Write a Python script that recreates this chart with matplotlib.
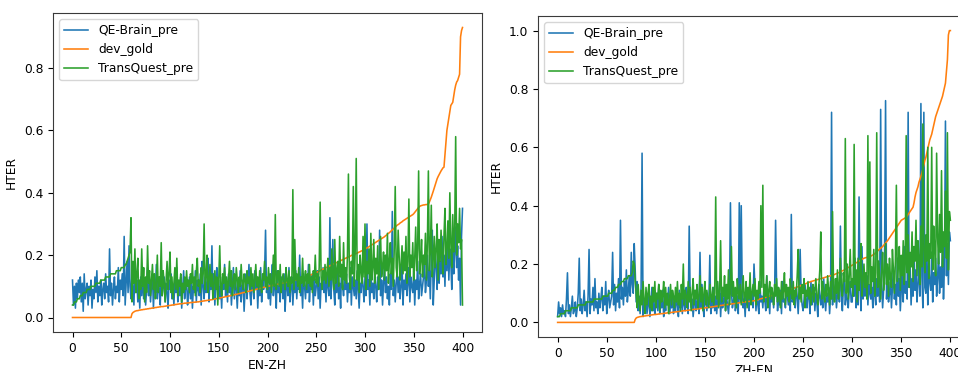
import numpy as np
import matplotlib.pyplot as plt

# HTER values (predictions in hundredths, gold in thousandths)
# EN-ZH
qe_enzh = [
    12, 4, 10, 3, 11, 6, 12, 8, 13, 5, 11, 2, 14, 6, 9, 11, 4, 10, 7, 12,
    3, 9, 6, 13, 8, 15, 5, 10, 7, 12, 4, 9, 11, 6, 14, 8, 10, 5, 22, 7,
    11, 4, 9, 13, 6, 10, 8, 16, 5, 12, 9, 14, 7, 26, 4, 11, 18, 8, 23, 10,
    6, 14, 9, 4, 17, 8, 12, 5, 10, 3, 13, 7, 15, 6, 11, 4, 9, 16, 7, 12,
    5, 10, 14, 3, 11, 8, 17, 6, 12, 9, 4, 15, 7, 10, 13, 5, 11, 8, 3, 12,
    9, 14, 6, 10, 4, 12, 8, 16, 5, 11, 7, 13, 3, 9, 15, 6, 10, 12, 4, 8,
    13, 6, 11, 3, 10, 8, 15, 5, 12, 9, 7, 14, 4, 18, 10, 6, 13, 8, 11, 19,
    5, 12, 9, 23, 7, 14, 4, 11, 16, 8, 12, 6, 10, 3, 13, 9, 17, 7, 11, 5,
    14, 8, 12, 4, 10, 16, 6, 13, 9, 3, 11, 7, 15, 5, 10, 12, 2, 9, 14, 6,
    11, 17, 8, 4, 12, 10, 6, 15, 9, 13, 3, 11, 7, 16, 5, 12, 9, 14, 28, 8,
    10, 6, 13, 4, 11, 17, 7, 12, 9, 3, 15, 8, 10, 5, 13, 11, 6, 14, 2, 9,
    12, 7, 16, 5, 10, 13, 4, 11, 8, 15, 6, 12, 9, 20, 7, 11, 3, 14, 10, 6,
    13, 8, 17, 5, 11, 9, 14, 4, 12, 7, 10, 15, 6, 13, 3, 11, 9, 16, 8, 12,
    5, 14, 10, 7, 32, 6, 12, 25, 9, 4, 13, 8, 15, 6, 11, 3, 17, 10, 7, 12,
    9, 14, 5, 11, 8, 16, 4, 13, 10, 7, 12, 6, 15, 9, 3, 11, 8, 14, 10, 5,
    13, 7, 30, 9, 12, 4, 15, 8, 11, 6, 14, 10, 5, 13, 9, 28, 7, 12, 4, 11,
    16, 8, 13, 6, 10, 4, 14, 9, 34, 7, 12, 5, 11, 15, 8, 13, 6, 10, 17, 4,
    12, 9, 14, 7, 11, 16, 5, 13, 10, 8, 15, 4, 12, 9, 18, 6, 11, 14, 7, 10,
    13, 17, 8, 12, 20, 10, 15, 6, 19, 28, 4, 12, 22, 16, 9, 25, 11, 18, 14, 26,
    13, 20, 10, 24, 15, 27, 12, 22, 18, 9, 25, 14, 21, 29, 16, 23, 12, 19, 4, 26,
    35,
]
gold_enzh = [
    0, 0, 0, 0, 0, 0, 0, 0, 0, 0, 0, 0, 0, 0, 0, 0, 0, 0, 0, 0,
    0, 0, 0, 0, 0, 0, 0, 0, 0, 0, 0, 0, 0, 0, 0, 0, 0, 0, 0, 0,
    0, 0, 0, 0, 0, 0, 0, 0, 0, 0, 0, 0, 0, 0, 0, 0, 0, 0, 0, 0,
    0, 12, 16, 18, 20, 21, 22, 22, 23, 24, 24, 25, 25, 26, 26, 27, 27, 28, 28, 29,
    29, 30, 30, 31, 31, 32, 32, 33, 33, 34, 34, 35, 35, 35, 36, 36, 37, 37, 38, 38,
    39, 39, 40, 40, 41, 41, 42, 42, 43, 43, 44, 44, 44, 45, 45, 46, 46, 46, 47, 47,
    47, 48, 48, 48, 49, 49, 49, 50, 50, 50, 51, 51, 52, 52, 53, 53, 54, 54, 55, 55,
    56, 56, 57, 57, 58, 59, 59, 60, 61, 61, 62, 63, 63, 64, 65, 65, 66, 67, 67, 68,
    69, 69, 70, 71, 71, 72, 73, 74, 74, 75, 76, 77, 77, 78, 79, 80, 80, 81, 82, 83,
    84, 84, 85, 86, 87, 88, 88, 89, 90, 91, 92, 92, 93, 94, 95, 96, 97, 97, 98, 99,
    100, 101, 101, 102, 103, 103, 104, 105, 105, 106, 107, 107, 108, 109, 109, 110, 111, 111, 112, 113,
    113, 114, 115, 116, 116, 117, 118, 119, 120, 120, 121, 122, 123, 124, 125, 126, 127, 128, 129, 130,
    131, 132, 133, 135, 136, 137, 139, 140, 141, 143, 144, 146, 147, 149, 150, 152, 154, 155, 157, 158,
    160, 161, 163, 164, 166, 167, 169, 170, 172, 173, 175, 176, 178, 179, 181, 182, 184, 185, 187, 188,
    190, 191, 193, 194, 196, 197, 199, 200, 201, 203, 204, 205, 207, 208, 210, 211, 213, 214, 216, 218,
    219, 221, 223, 225, 227, 229, 231, 233, 235, 237, 239, 241, 243, 245, 247, 249, 251, 253, 255, 257,
    259, 262, 264, 267, 270, 272, 275, 278, 281, 284, 287, 290, 293, 296, 298, 300, 303, 305, 307, 310,
    312, 314, 316, 318, 320, 322, 324, 326, 328, 330, 333, 337, 341, 345, 349, 353, 356, 358, 359, 360,
    361, 361, 362, 362, 363, 364, 370, 378, 386, 395, 405, 415, 425, 435, 445, 452, 458, 464, 470, 475,
    480, 482, 520, 560, 600, 620, 640, 660, 680, 685, 690, 710, 730, 745, 755, 760, 770, 780, 900, 920,
    930,
]
tq_enzh = [
    4, 4, 5, 5, 5, 6, 6, 6, 7, 7, 7, 8, 8, 8, 8, 9, 9, 9, 9, 10,
    10, 10, 10, 10, 11, 11, 11, 11, 11, 12, 12, 12, 12, 12, 13, 13, 13, 13, 13, 14,
    14, 14, 14, 14, 14, 15, 15, 15, 15, 15, 16, 16, 16, 16, 17, 17, 18, 19, 20, 21,
    32, 5, 18, 11, 22, 8, 14, 19, 6, 12, 9, 22, 10, 16, 5, 13, 8, 23, 11, 15,
    7, 12, 17, 9, 14, 6, 11, 20, 8, 13, 10, 24, 7, 15, 11, 5, 12, 18, 9, 14,
    21, 8, 13, 6, 11, 16, 9, 19, 7, 12, 10, 14, 5, 11, 8, 13, 9, 15, 10, 12,
    8, 14, 11, 17, 9, 13, 7, 15, 19, 10, 12, 8, 16, 11, 14, 30, 9, 13, 20, 8,
    12, 17, 10, 14, 6, 11, 15, 9, 13, 4, 12, 23, 10, 7, 14, 11, 16, 9, 13, 8,
    12, 18, 10, 15, 7, 11, 14, 9, 16, 12, 8, 13, 10, 17, 11, 9, 14, 12, 8, 15,
    11, 13, 9, 16, 10, 14, 8, 12, 17, 10, 13, 9, 15, 11, 8, 14, 12, 18, 10, 13,
    9, 16, 11, 14, 8, 12, 20, 10, 33, 9, 13, 15, 10, 17, 8, 12, 14, 11, 9, 16,
    12, 10, 15, 8, 13, 11, 41, 9, 25, 12, 14, 10, 16, 8, 13, 11, 19, 10, 12, 15,
    9, 14, 11, 17, 10, 13, 8, 15, 12, 20, 11, 14, 10, 16, 37, 13, 9, 15, 12, 17,
    11, 14, 19, 10, 16, 12, 22, 13, 9, 25, 11, 15, 18, 10, 26, 13, 17, 9, 24, 12,
    16, 11, 20, 46, 13, 9, 18, 14, 42, 10, 22, 51, 12, 17, 8, 20, 15, 11, 26, 13,
    30, 9, 18, 14, 22, 10, 27, 12, 16, 25, 11, 19, 14, 23, 9, 18, 26, 13, 16, 21,
    12, 20, 15, 27, 11, 18, 24, 14, 19, 10, 22, 42, 16, 13, 28, 20, 12, 17, 23, 14,
    21, 15, 26, 11, 18, 38, 13, 20, 16, 24, 12, 19, 29, 15, 22, 47, 14, 18, 25, 13,
    20, 17, 27, 12, 24, 47, 15, 21, 36, 13, 19, 26, 16, 22, 30, 12, 25, 18, 28, 20,
    14, 26, 35, 17, 22, 31, 19, 40, 24, 16, 33, 21, 28, 58, 20, 30, 24, 35, 22, 25,
    4,
]

# ZH-EN
qe_zhen = [
    2, 7, 3, 5, 2, 6, 3, 4, 2, 8, 17, 3, 6, 2, 5, 9, 3, 4, 7, 2,
    5, 10, 22, 4, 8, 3, 6, 11, 4, 7, 2, 9, 25, 3, 8, 6, 12, 4, 15, 5,
    7, 3, 10, 5, 8, 12, 4, 9, 6, 14, 3, 8, 11, 5, 7, 9, 24, 6, 13, 4,
    10, 7, 15, 5, 35, 8, 12, 6, 14, 9, 18, 7, 11, 16, 9, 24, 13, 10, 27, 18,
    7, 14, 4, 9, 3, 12, 58, 2, 8, 4, 10, 3, 6, 9, 2, 7, 12, 4, 8, 3,
    6, 10, 4, 13, 3, 8, 5, 11, 2, 7, 4, 9, 6, 12, 3, 8, 5, 10, 3, 7,
    4, 9, 6, 2, 11, 5, 8, 3, 10, 6, 4, 12, 7, 3, 33, 9, 5, 8, 2, 6,
    11, 4, 7, 9, 3, 24, 5, 13, 6, 2, 10, 8, 4, 8, 6, 23, 3, 7, 5, 12,
    4, 9, 3, 8, 6, 14, 2, 10, 5, 7, 12, 4, 9, 6, 3, 8, 41, 11, 5, 7,
    10, 4, 6, 9, 3, 41, 7, 40, 12, 5, 8, 2, 11, 6, 9, 4, 13, 7, 10, 5,
    20, 12, 4, 10, 6, 3, 14, 7, 9, 5, 11, 8, 4, 16, 6, 9, 3, 12, 7, 10,
    5, 10, 35, 13, 4, 9, 6, 11, 3, 14, 7, 8, 5, 12, 9, 6, 10, 4, 37, 7,
    9, 8, 5, 12, 9, 3, 11, 25, 10, 6, 4, 8, 13, 7, 5, 11, 9, 3, 14, 6,
    8, 12, 4, 10, 7, 2, 13, 9, 6, 11, 5, 15, 8, 4, 10, 7, 12, 3, 9, 72,
    6, 14, 8, 11, 5, 10, 13, 7, 33, 9, 4, 12, 16, 6, 10, 8, 5, 11, 14, 7,
    7, 14, 9, 22, 5, 10, 6, 43, 12, 4, 26, 8, 15, 9, 11, 16, 6, 13, 10, 8,
    12, 5, 18, 10, 6, 15, 9, 20, 7, 73, 13, 5, 11, 24, 76, 8, 16, 7, 10, 14,
    5, 12, 19, 8, 13, 6, 22, 9, 15, 4, 11, 17, 7, 26, 10, 14, 8, 72, 12, 20,
    6, 15, 9, 25, 11, 18, 7, 13, 23, 9, 75, 16, 5, 72, 12, 10, 28, 6, 19, 14,
    11, 24, 7, 17, 13, 22, 9, 15, 25, 10, 19, 12, 30, 8, 20, 69, 16, 27, 13, 31,
    28,
]
gold_zhen = [
    0, 0, 0, 0, 0, 0, 0, 0, 0, 0, 0, 0, 0, 0, 0, 0, 0, 0, 0, 0,
    0, 0, 0, 0, 0, 0, 0, 0, 0, 0, 0, 0, 0, 0, 0, 0, 0, 0, 0, 0,
    0, 0, 0, 0, 0, 0, 0, 0, 0, 0, 0, 0, 0, 0, 0, 0, 0, 0, 0, 0,
    0, 0, 0, 0, 0, 0, 0, 0, 0, 0, 0, 0, 0, 0, 0, 0, 0, 0, 0,
    10, 15, 17, 18, 19, 20, 20, 21, 21, 22, 22, 23, 23, 24, 24, 25, 25, 26, 26, 27, 27,
    27, 28, 28, 29, 29, 30, 30, 30, 31, 31, 32, 32, 33, 33, 33, 34, 34, 35, 35, 36,
    36, 36, 37, 37, 38, 38, 39, 39, 40, 40, 40, 41, 41, 42, 42, 43, 43, 44, 44, 45,
    45, 45, 46, 46, 47, 47, 48, 48, 49, 49, 50, 50, 51, 51, 52, 52, 53, 53, 54, 54,
    55, 55, 56, 56, 57, 57, 58, 58, 59, 59, 60, 60, 61, 61, 62, 62, 63, 63, 64, 64,
    65, 65, 66, 66, 67, 67, 68, 68, 69, 69, 70, 70, 71, 71, 72, 72, 72, 73, 73, 74,
    74, 75, 76, 77, 78, 79, 80, 81, 82, 83, 84, 85, 86, 87, 88, 89, 90, 91, 92, 93,
    94, 95, 96, 97, 98, 99, 100, 101, 102, 103, 105, 106, 107, 108, 109, 110, 112, 113, 114, 115,
    116, 118, 119, 120, 121, 123, 124, 125, 127, 128, 129, 131, 132, 133, 135, 136, 137, 139, 140, 141,
    142, 143, 144, 145, 146, 147, 148, 149, 150, 151, 152, 153, 154, 155, 156, 157, 158, 159, 160, 161,
    162, 163, 164, 166, 167, 169, 170, 172, 173, 175, 177, 178, 180, 182, 184, 186, 188, 190, 192, 194,
    196, 198, 200, 202, 204, 206, 208, 210, 212, 214, 216, 218, 220, 221, 222, 223, 224, 225, 226, 227,
    229, 231, 233, 236, 239, 242, 245, 248, 251, 254, 257, 260, 264, 268, 272, 276, 280, 285, 290, 295,
    300, 305, 310, 315, 320, 325, 330, 335, 340, 345, 350, 352, 354, 356, 358, 360, 365, 370, 375, 380,
    385, 390, 395, 410, 430, 445, 455, 465, 480, 490, 500, 512, 525, 540, 555, 565, 580, 595, 610, 625,
    635, 645, 660, 675, 690, 705, 715, 725, 735, 745, 755, 765, 775, 790, 805, 820, 860, 900, 985, 1000,
    1000,
]
tq_zhen = [
    2, 2, 2, 3, 3, 3, 3, 3, 4, 4, 4, 4, 4, 4, 5, 5, 5, 5, 5, 5,
    5, 6, 6, 6, 6, 6, 6, 6, 6, 7, 7, 7, 7, 7, 7, 7, 7, 8, 8, 8,
    8, 8, 8, 8, 8, 8, 9, 9, 9, 9, 9, 9, 10, 10, 10, 10, 11, 11, 11, 12,
    12, 12, 13, 13, 13, 14, 14, 14, 15, 15, 15, 15, 16, 16, 16, 16, 17, 21, 20, 14,
    10, 5, 13, 7, 4, 11, 6, 14, 8, 3, 12, 6, 10, 13, 5, 9, 4, 12, 7, 14,
    5, 10, 8, 13, 4, 11, 7, 9, 14, 5, 12, 6, 10, 3, 8, 13, 6, 11, 9, 5,
    12, 7, 14, 6, 10, 4, 13, 8, 20, 6, 11, 9, 5, 14, 7, 12, 4, 10, 15, 6,
    11, 8, 13, 5, 9, 16, 7, 12, 4, 10, 14, 6, 11, 8, 5, 13, 9, 7, 12, 6,
    10, 43, 8, 14, 5, 11, 28, 7, 12, 9, 16, 4, 13, 8, 18, 6, 11, 26, 9, 14,
    7, 12, 5, 15, 10, 8, 13, 6, 11, 16, 7, 9, 14, 5, 12, 8, 17, 6, 10, 13,
    9, 15, 6, 11, 8, 14, 10, 40, 12, 47, 7, 13, 9, 16, 5, 11, 14, 8, 12, 10,
    6, 13, 9, 15, 7, 12, 10, 5, 14, 8, 11, 17, 6, 13, 9, 12, 7, 15, 10, 8,
    14, 6, 11, 9, 16, 25, 8, 12, 7, 13, 10, 15, 5, 11, 9, 14, 8, 12, 6, 10,
    13, 7, 11, 15, 9, 6, 12, 18, 31, 8, 14, 10, 7, 13, 9, 16, 11, 6, 14, 8,
    38, 12, 7, 15, 10, 18, 8, 13, 22, 11, 9, 17, 14, 63, 10, 20, 8, 16, 25, 12,
    15, 9, 61, 13, 18, 7, 22, 11, 16, 27, 9, 14, 20, 12, 17, 8, 64, 13, 55, 10,
    19, 14, 25, 9, 17, 65, 12, 21, 15, 8, 18, 24, 11, 16, 27, 13, 20, 9, 22, 15,
    12, 25, 18, 10, 21, 47, 14, 19, 26, 11, 23, 16, 28, 13, 20, 64, 17, 30, 12, 24,
    19, 31, 14, 26, 21, 35, 16, 28, 22, 13, 33, 19, 68, 25, 17, 30, 21, 60, 15, 27,
    22, 60, 18, 33, 25, 16, 58, 29, 20, 37, 24, 52, 19, 31, 26, 45, 22, 65, 18, 38,
    35,
]

plt.rcParams['font.size'] = 8.8
plt.rcParams['axes.edgecolor'] = '#3a3a3a'

fig = plt.figure(figsize=(9.58, 3.72), dpi=100)
ax1 = fig.add_axes([53 / 958, 40 / 372, 429 / 958, 319 / 372])
# the right chart runs past the edge of the picture, as in the screenshot
ax2 = fig.add_axes([538 / 958, 35 / 372, 432 / 958, 321 / 372])

panels = [
    (ax1, qe_enzh, gold_enzh, tq_enzh, 'EN-ZH'),
    (ax2, qe_zhen, gold_zhen, tq_zhen, 'ZH-EN'),
]
for ax, qe, gold, tq, name in panels:
    ax.plot(np.arange(len(qe)), np.array(qe) / 100, label='QE-Brain_pre', lw=1.15)
    ax.plot(np.arange(len(gold)), np.array(gold) / 1000, label='dev_gold', lw=1.15)
    ax.plot(np.arange(len(tq)), np.array(tq) / 100, label='TransQuest_pre', lw=1.15)
    ax.set_xticks(np.arange(0, 401, 50))
    ax.set_xlabel(name, labelpad=3)
    ax.set_ylabel('HTER')
    ax.legend(loc='upper left')

fig.savefig('out.png', dpi=100)
